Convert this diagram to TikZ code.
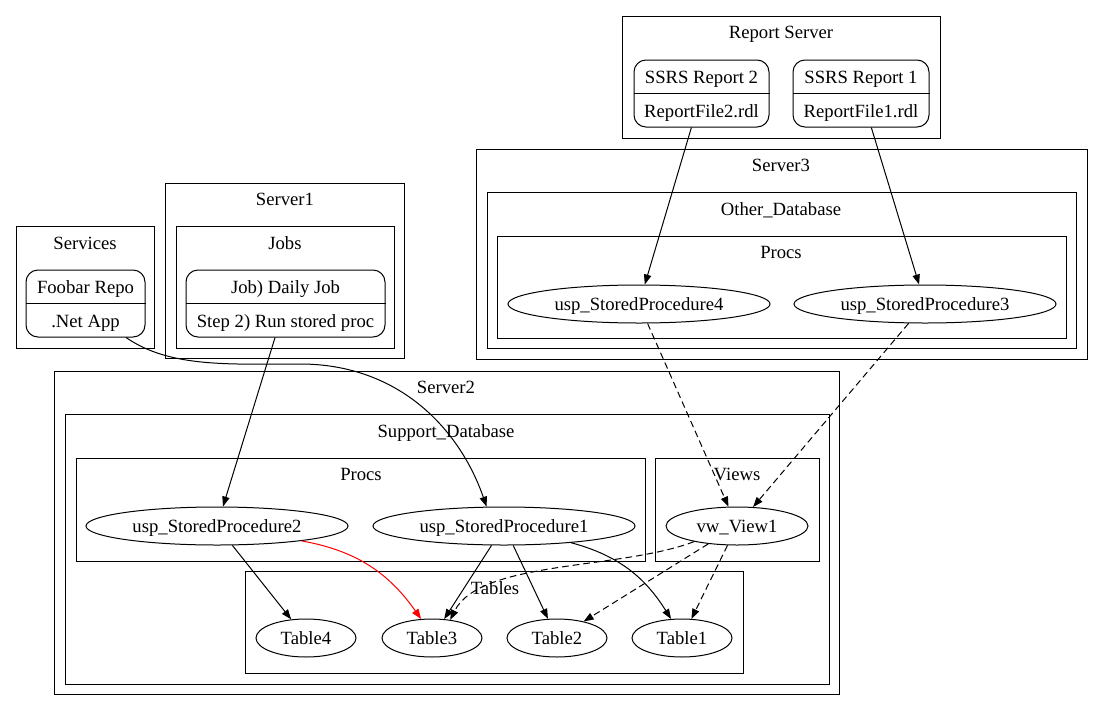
\documentclass[tikz,border=0pt]{standalone}
\usepackage{fontspec}
\setmainfont{Liberation Serif}
\usetikzlibrary{arrows.meta,calc,shapes.geometric,positioning}

\tikzset{
  gvtext/.style={font=\fontsize{14}{16}\selectfont, inner sep=0pt, text height=12pt, text depth=3pt},
  proc/.style={ellipse, draw, gvtext, minimum width=196.5pt, minimum height=28.5pt},
  tbl/.style={ellipse, draw, gvtext, minimum width=75pt, minimum height=28.5pt},
  rec/.style={draw, rounded corners=9pt, minimum height=50.25pt},
  edge/.style={-{Triangle[length=7.5pt,width=5.5pt]}},
  dsh/.style={dash pattern=on 5pt off 3pt},
}

\begin{document}
\begin{tikzpicture}[x=0.75pt,y=-0.75pt,line width=0.75pt]
\useasboundingbox (0,0) rectangle (1104,711);

% clusters
\draw (622,16) rectangle (940,138);
\node[gvtext] (rslbl) at (781,32) {Report Server};
\draw (476,149) rectangle (1087,359);
\node[gvtext] (s3lbl) at (781,165) {Server3};
\draw (487,192) rectangle (1076,348);
\node[gvtext] (odlbl) at (781,209) {Other\_Database};
\draw (497,236) rectangle (1066,338);
\node[gvtext] (p3lbl) at (781,252) {Procs};
\draw (16,226) rectangle (154,348);
\node[gvtext] (svlbl) at (85,243) {Services};
\draw (165,183) rectangle (404,358);
\node[gvtext] (s1lbl) at (285,199) {Server1};
\draw (176,226) rectangle (394,348);
\node[gvtext] (jblbl) at (285,243) {Jobs};
\draw (54,371) rectangle (839,694);
\node[gvtext] (s2lbl) at (446,387) {Server2};
\draw (65,414) rectangle (829,684);
\node[gvtext] (sdlbl) at (446,431) {Support\_Database};
\draw (76,458) rectangle (645,561);
\node[gvtext] (p2lbl) at (361,474) {Procs};
\draw (655,458) rectangle (819,561);
\node[gvtext] (vwlbl) at (737,474) {Views};
\draw (245,571) rectangle (743,673);
\node[gvtext] (tblbl) at (495,588) {Tables};

% records
\node[rec, minimum width=101.25pt] (rep2) at (701.5,93.5) {};
\draw (rep2.west) -- (rep2.east);
\node[gvtext] (rep2a) at (701.5,77) {SSRS Report 2};
\node[gvtext] (rep2b) at (701.5,111) {ReportFile2.rdl};
\node[rec, minimum width=102pt] (rep1) at (861,93.5) {};
\draw (rep1.west) -- (rep1.east);
\node[gvtext] (rep1a) at (861,77) {SSRS Report 1};
\node[gvtext] (rep1b) at (861,111) {ReportFile1.rdl};
\node[rec, minimum width=89.25pt] (foo) at (85.5,303.5) {};
\draw (foo.west) -- (foo.east);
\node[gvtext] (fooa) at (85.5,287) {Foobar Repo};
\node[gvtext] (foob) at (85.5,321) {.Net App};
\node[rec, minimum width=149.25pt] (job) at (285.5,303.5) {};
\draw (job.west) -- (job.east);
\node[gvtext] (joba) at (285.5,287) {Job) Daily Job};
\node[gvtext] (jobb) at (285.5,321) {Step 2) Run stored proc};

% procs, views, tables
\node[proc] (sp4) at (639,304) {usp\_StoredProcedure4};
\node[proc] (sp3) at (925,304) {usp\_StoredProcedure3};
\node[proc] (sp2) at (217,526) {usp\_StoredProcedure2};
\node[proc] (sp1) at (504,526) {usp\_StoredProcedure1};
\node[proc, minimum width=106.5pt] (view) at (737,526) {vw\_View1};
\node[tbl] (t4) at (306,638) {Table4};
\node[tbl] (t3) at (432,638) {Table3};
\node[tbl] (t2) at (557,638) {Table2};
\node[tbl] (t1) at (682,638) {Table1};

% edges
\draw[edge] (rep2) -- (sp4);
\draw[edge] (rep1) -- (sp3);
\draw[edge] (job) -- (sp2);
\draw[edge] (foo.-40) .. controls (170,368) and (230,364) .. (300,364) .. controls (400,364) and (460,430) .. (sp1.132);
\draw[edge,dsh] (sp4) -- (view);
\draw[edge,dsh] (sp3) -- (view);
\draw[edge] (sp2) -- (t4);
\draw[edge,red] (sp2.-10) to[out=-10,in=125] (t3.120);
\draw[edge] (sp1) -- (t3);
\draw[edge] (sp1) -- (t2);
\draw[edge] (sp1.-14) to[out=-15,in=122] (t1.120);
\draw[edge,dsh] (view.-160) .. controls (620,570) and (480,560) .. (t3.45);
\draw[edge,dsh] (view) -- (t2);
\draw[edge,dsh] (view) -- (t1);
\end{tikzpicture}
\end{document}
